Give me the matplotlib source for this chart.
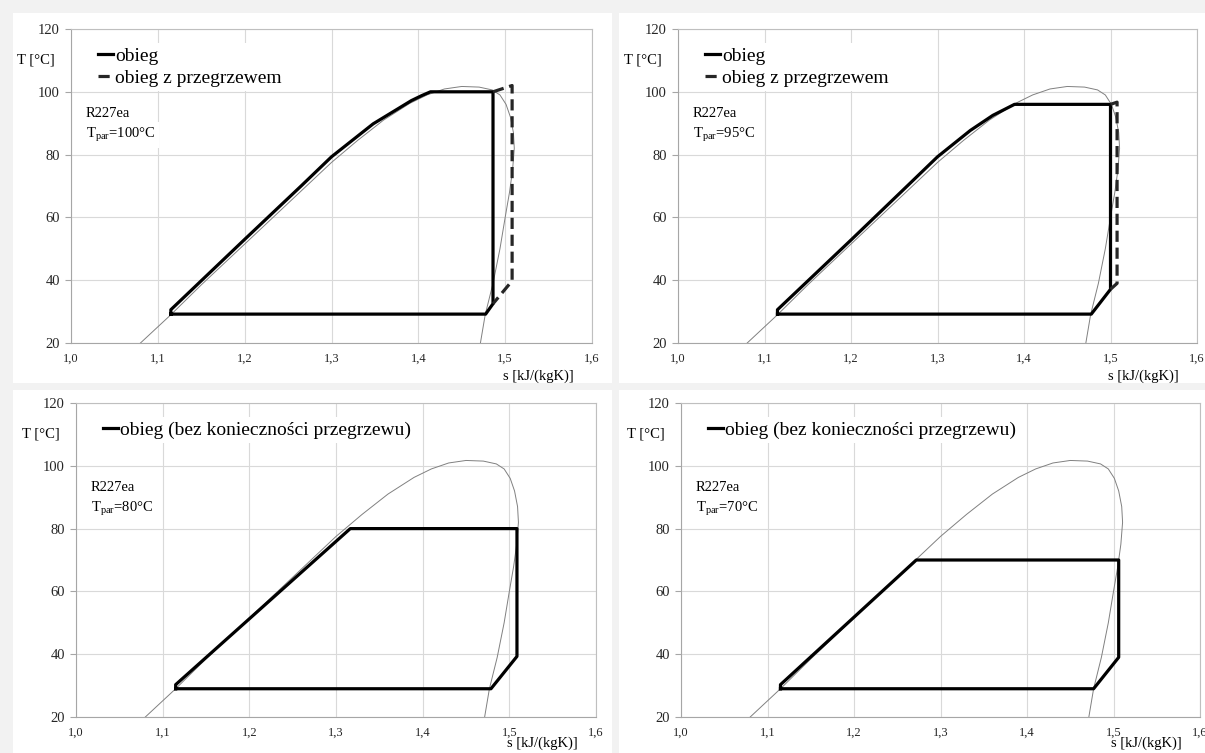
import matplotlib
matplotlib.use("Agg")
import matplotlib.pyplot as plt
from matplotlib.patches import Rectangle

plt.rcParams['font.family'] = ['Liberation Serif', 'DejaVu Serif']
plt.rcParams['mathtext.fontset'] = 'custom'
plt.rcParams['mathtext.rm'] = 'Liberation Serif'
plt.rcParams['mathtext.it'] = 'Liberation Serif:italic'

# saturation dome of R227ea (s [kJ/(kgK)], T [C])
dome_s = [1.080, 1.115, 1.150, 1.200, 1.250, 1.300, 1.330, 1.360, 1.390, 1.410, 1.430, 1.450,
          1.470, 1.485, 1.494, 1.501, 1.506, 1.5095, 1.5105, 1.5085, 1.505, 1.500, 1.494, 1.486,
          1.477, 1.4715]
dome_T = [20, 29, 38.5, 51.5, 64.5, 77.5, 84.5, 91, 96.3, 99, 100.9, 101.7,
          101.5, 100.6, 99.0, 96.0, 92, 87, 82, 75, 68, 60, 50, 39,
          29, 20]

# T_par = 100 C
c100_s = [1.115, 1.115, 1.200, 1.265, 1.300, 1.348, 1.392, 1.404, 1.414, 1.486, 1.486, 1.4775, 1.115]
c100_T = [29.2, 30.6, 53.0, 70.0, 79.3, 89.8, 97.2, 98.8, 100, 100, 32.5, 29.2, 29.2]
c100_sh_s = [1.486, 1.508, 1.508, 1.486]
c100_sh_T = [100, 102.0, 39.8, 32.5]

# T_par = 95 C
c95_s = [1.115, 1.115, 1.200, 1.265, 1.300, 1.338, 1.364, 1.389, 1.500, 1.500, 1.4778, 1.115]
c95_T = [29.2, 30.6, 52.8, 70.0, 79.3, 87.7, 92.5, 96.0, 96.0, 37.1, 29.2, 29.2]
c95_sh_s = [1.500, 1.5076, 1.5076, 1.500]
c95_sh_T = [96.0, 96.7, 39.0, 37.1]

# T_par = 80 C
c80_s = [1.115, 1.115, 1.3165, 1.5088, 1.5088, 1.4788, 1.115]
c80_T = [29.0, 30.3, 80.0, 80.0, 39.3, 29.0, 29.0]

# T_par = 70 C
c70_s = [1.115, 1.115, 1.272, 1.506, 1.506, 1.477, 1.115]
c70_T = [29.0, 30.3, 70.0, 70.0, 39.0, 29.0, 29.0]

x_ticks = [1.0, 1.1, 1.2, 1.3, 1.4, 1.5, 1.6]
y_ticks = [20, 40, 60, 80, 100, 120]

W, H = 1205, 753
fig = plt.figure(figsize=(W / 100, H / 100), dpi=100)
fig.patch.set_facecolor('#f2f2f2')


def box(l, t, r, b):
    return [l / W, 1 - b / H, (r - l) / W, (b - t) / H]


panel_px = [(13, 13, 612, 383), (619, 13, 1205, 383), (13, 390, 612, 753), (619, 390, 1205, 753)]
axes_px = [(71, 29, 592, 343), (678, 29, 1197, 343), (76, 403, 596, 717), (681, 403, 1200, 717)]
slabel_y = [-0.105, -0.105, -0.083, -0.083]
cycles = [(c100_s, c100_T, c100_sh_s, c100_sh_T, '100'),
          (c95_s, c95_T, c95_sh_s, c95_sh_T, '95'),
          (c80_s, c80_T, None, None, '80'),
          (c70_s, c70_T, None, None, '70')]

for p in panel_px:
    l, b, w, h = box(*p)
    fig.add_artist(Rectangle((l, b), w, h, transform=fig.transFigure,
                             facecolor='white', edgecolor='none', zorder=-5))

for a, sy, (cs, cT, hs, hT, tpar) in zip(axes_px, slabel_y, cycles):
    ax = fig.add_axes(box(*a))
    ax.plot(dome_s, dome_T, color='#808080', lw=0.7, zorder=2)
    if hs is not None:
        ax.plot(cs, cT, color='black', lw=2.3, label='obieg', zorder=3)
        ax.plot(hs, hT, color='#262626', lw=2.3, ls=(0, (3.5, 1.8)),
                label='obieg z przegrzewem', zorder=3)
    else:
        ax.plot(cs, cT, color='black', lw=2.3, label='obieg (bez konieczności przegrzewu)', zorder=3)

    ax.set_xlim(1.0, 1.6)
    ax.set_ylim(20, 120)
    ax.set_xticks(x_ticks)
    ax.set_xticklabels([f"{v:.1f}".replace('.', ',') for v in x_ticks], fontsize=9)
    ax.set_yticks(y_ticks)
    ax.set_yticklabels([str(v) for v in y_ticks], fontsize=10.5)
    ax.tick_params(axis='x', length=0, pad=7, colors='#262626')
    ax.tick_params(axis='y', length=4, width=0.8, pad=4, color='#a6a6a6', labelcolor='#262626')
    ax.grid(True, color='#d9d9d9', lw=0.8)
    ax.set_axisbelow(True)
    for sp in ['top', 'right']:
        ax.spines[sp].set_color('#bfbfbf')
        ax.spines[sp].set_linewidth(0.8)
    for sp in ['left', 'bottom']:
        ax.spines[sp].set_color('#a6a6a6')
        ax.spines[sp].set_linewidth(0.8)

    leg = ax.legend(loc='upper left', bbox_to_anchor=(0.045, 0.955), frameon=True,
                    facecolor='white', edgecolor='none', framealpha=1, fancybox=False,
                    borderpad=0.2, borderaxespad=0, handlelength=0.75, handletextpad=0.1,
                    labelspacing=0.25, fontsize=14)
    leg.set_zorder(4)

    ax.text(0.028, 0.73, 'R227ea', transform=ax.transAxes, fontsize=10.5, va='center',
            ha='left', zorder=5, bbox=dict(facecolor='white', edgecolor='none', pad=3))
    ax.text(0.028, 0.662, 'T$_{\\rm par}$=' + tpar + '°C', transform=ax.transAxes, fontsize=10.5,
            va='center', ha='left', zorder=5, bbox=dict(facecolor='white', edgecolor='none', pad=3))

    ax.text(-0.068, 0.9, 'T [°C]', transform=ax.transAxes, fontsize=10.5, va='center', ha='center')
    ax.text(0.965, sy, 's [kJ/(kgK)]', transform=ax.transAxes, fontsize=10.5,
            va='center', ha='right')

fig.savefig('out.png', dpi=100, facecolor=fig.get_facecolor())
